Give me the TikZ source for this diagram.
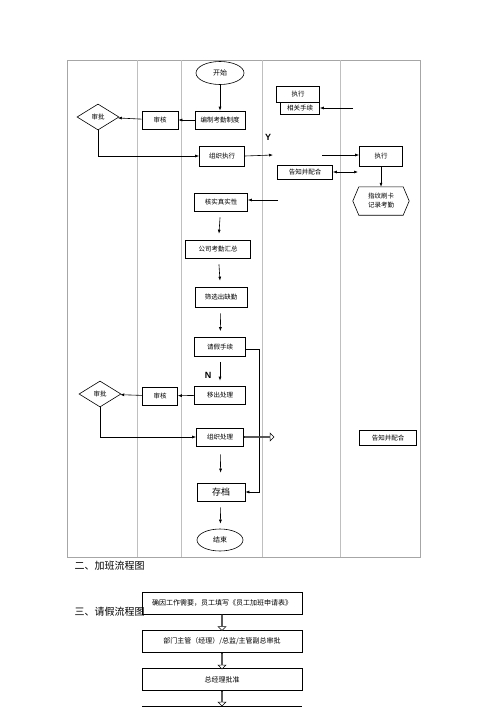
\documentclass[tikz,border=0pt]{standalone}
\usepackage{fontspec}
\usepackage{tikz}
\usetikzlibrary{arrows.meta,shapes.geometric,shapes.arrows}
\setmainfont{Liberation Sans}
\newfontfamily\cjk{Noto Sans CJK SC}

\begin{document}
\begin{tikzpicture}[x=1pt,y=-1pt]
        \tikzset{Box/.style={draw, fill=white, line width=0.6pt, rectangle, minimum height=18pt,
                  inner sep=1pt, font=\cjk\fontsize{6.5}{8}\selectfont},
                 Oval/.style={draw, fill=white, line width=0.6pt, ellipse, minimum width=48pt,
                  minimum height=23pt, inner sep=0pt, font=\cjk\fontsize{7}{8}\selectfont},
                 Judge/.style={draw, fill=white, line width=0.6pt, diamond, minimum width=42pt,
                  minimum height=26pt, inner sep=0pt, font=\cjk\fontsize{6.5}{8}\selectfont},
                 Card/.style={rectangle, minimum width=44pt, minimum height=28pt, inner sep=1pt,
                  align=center, font=\cjk\fontsize{6.5}{9}\selectfont},
                 Wide/.style={draw, line width=0.6pt, rectangle, minimum width=160pt, minimum height=22pt,
                  inner sep=0pt, font=\cjk\fontsize{7}{8}\selectfont},
                 Hollow/.style={draw, line width=0.5pt, single arrow, fill=white, inner sep=0pt,
                  minimum width=8pt, single arrow head extend=1.5pt, minimum height=#1},
                 Lane/.style={draw=black!25, line width=0.8pt},
                 arr/.style={-{Latex[length=4pt,width=3pt]}, line width=0.6pt}}
        \useasboundingbox (0,0) rectangle (500,707);
        % swim lanes
        \draw[draw=black!35, line width=1pt] (67,60) rectangle (420,557);
        \foreach \x in {137,181,262,340}
          \draw[Lane] (\x,60) -- (\x,557);
        % attendance flow
        \node[Oval] (start) at (220,73) {开始};
        \node[Box, minimum width=50pt] (bianzhi) at (220,120) {编制考勤制度};
        \node[Box, minimum width=36pt] (shenheA) at (160,120) {审核};
        \node[Judge] (shenpiA) at (98,117) {审批};
        \node[Box, minimum width=43pt, minimum height=16pt] (zhixingA) at (298,94) {执行};
        \node[Box, minimum width=39pt, minimum height=12pt] (xiangguan) at (300,108) {相关手续};
        \node[Box, minimum width=45pt, minimum height=20pt] (zuzhi) at (222,156) {组织执行};
        \node[Box, minimum width=43pt, minimum height=20pt] (zhixingB) at (381,156) {执行};
        \node[Box, minimum width=55pt, minimum height=14pt] (gaozhiA) at (305,172) {告知并配合};
        \node[Card] (zhiwen) at (381,201) {指纹刷卡\\记录考勤};
        \draw[line width=0.6pt] ([xshift=-6pt]zhiwen.west) -- (zhiwen.north west) -- (zhiwen.north east)
          -- ([xshift=6pt]zhiwen.east) -- (zhiwen.south east) -- (zhiwen.south west) -- cycle;
        \node[Box, minimum width=53pt] (heshi) at (221,202) {核实真实性};
        \node[Box, minimum width=65pt] (huizong) at (218,249) {公司考勤汇总};
        \node[Box, minimum width=52pt, minimum height=20pt] (shaixuan) at (221,297) {筛选出缺勤};
        \node[Box, minimum width=51pt, minimum height=19pt] (qingjia) at (220,347) {请假手续};
        \node[Box, minimum width=51pt] (yichu) at (220,395) {移出处理};
        \node[Box, minimum width=35pt] (shenheB) at (160,396) {审核};
        \node[Judge] (shenpiB) at (100,394) {审批};
        \node[Box, minimum width=47pt] (zuzhichuli) at (220,437) {组织处理};
        \node[Box, minimum width=57pt, minimum height=15pt] (gaozhiB) at (388,438) {告知并配合};
        \node[Box, minimum width=48pt, font=\cjk\fontsize{9}{10}\selectfont] (cundang) at (221,492) {存档};
        \node[Oval, minimum width=46pt, minimum height=22pt] (jieshu) at (220,540) {结束};
        \node[font=\bfseries\fontsize{9}{10}\selectfont] (yes) at (268,137) {Y};
        \node[font=\bfseries\fontsize{9}{10}\selectfont] (no) at (208,375) {N};
        \coordinate (ya) at (273,155);
        \coordinate (yb) at (322,155);
        \coordinate (gb) at (358,172);
        \coordinate (xa) at (353,108);
        \coordinate (hs) at (278,200);
        \coordinate (qr) at (259,349);
        \draw[arr] (start) -- (bianzhi);
        \draw[arr] (bianzhi) -- (shenheA);
        \draw[arr] (shenheA) -- (shenpiA);
        \draw[arr] (shenpiA.south) |- (zuzhi.west);
        \draw[arr] (zuzhi.east) -- (ya);
        \draw[arr] (yb) -- (zhixingB.west |- yb);
        \draw[{Latex[length=4pt,width=3pt]}-{Latex[length=4pt,width=3pt]}, line width=0.6pt] (gaozhiA.east) -- (gb);
        \draw[arr] (xa) -- (xiangguan.east);
        \draw[arr] (zhixingB) -- (zhiwen);
        \draw[arr] (hs) -- (heshi.east |- hs);
        \draw[arr, shorten <=6pt, shorten >=6pt] (heshi) -- (huizong);
        \draw[arr, shorten <=6pt, shorten >=6pt] (huizong) -- (shaixuan);
        \draw[arr, shorten <=6pt, shorten >=6pt] (shaixuan) -- (qingjia);
        \draw[arr, shorten <=5pt, shorten >=5pt] (qingjia) -- (yichu);
        \draw[arr] (yichu) -- (shenheB);
        \draw[arr] (shenheB) -- (shenpiB);
        \draw[arr] (shenpiB.south) |- (zuzhichuli.west);
        \draw[arr, shorten <=8pt, shorten >=10pt] (zuzhichuli) -- (cundang);
        \draw[arr] (qingjia.east |- qr) -| (qr |- cundang.east) -- (cundang.east);
        \draw[arr, shorten <=6pt, shorten >=5pt] (cundang) -- (jieshu);
        \node[Hollow=30pt, anchor=tail] (tohandle) at (zuzhichuli.east) {};
        % headings and leave flow
        \node[anchor=west, font=\cjk\fontsize{10}{11}\selectfont] (titleA) at (71,566) {二、加班流程图};
        \node[anchor=west, font=\cjk\fontsize{10}{11}\selectfont] (titleB) at (71,612) {三、请假流程图};
        \node[Wide] (stepA) at (222,603) {确因工作需要，员工填写《员工加班申请表》};
        \node[Wide] (stepB) at (222,641.5) {部门主管（经理）/总监/主管副总审批};
        \node[Wide] (stepC) at (222,679.5) {总经理批准};
        \coordinate (stepD) at (222,706);
        \draw[line width=0.6pt] (142,706) -- (302,706);
        \node[Hollow=16pt, shape border rotate=270, anchor=tail] (arA) at (stepA.south) {};
        \node[Hollow=16pt, shape border rotate=270, anchor=tail] (arB) at (stepB.south) {};
        \node[Hollow=15pt, shape border rotate=270, anchor=tail] (arC) at (stepC.south) {};
\end{tikzpicture}
\end{document}
